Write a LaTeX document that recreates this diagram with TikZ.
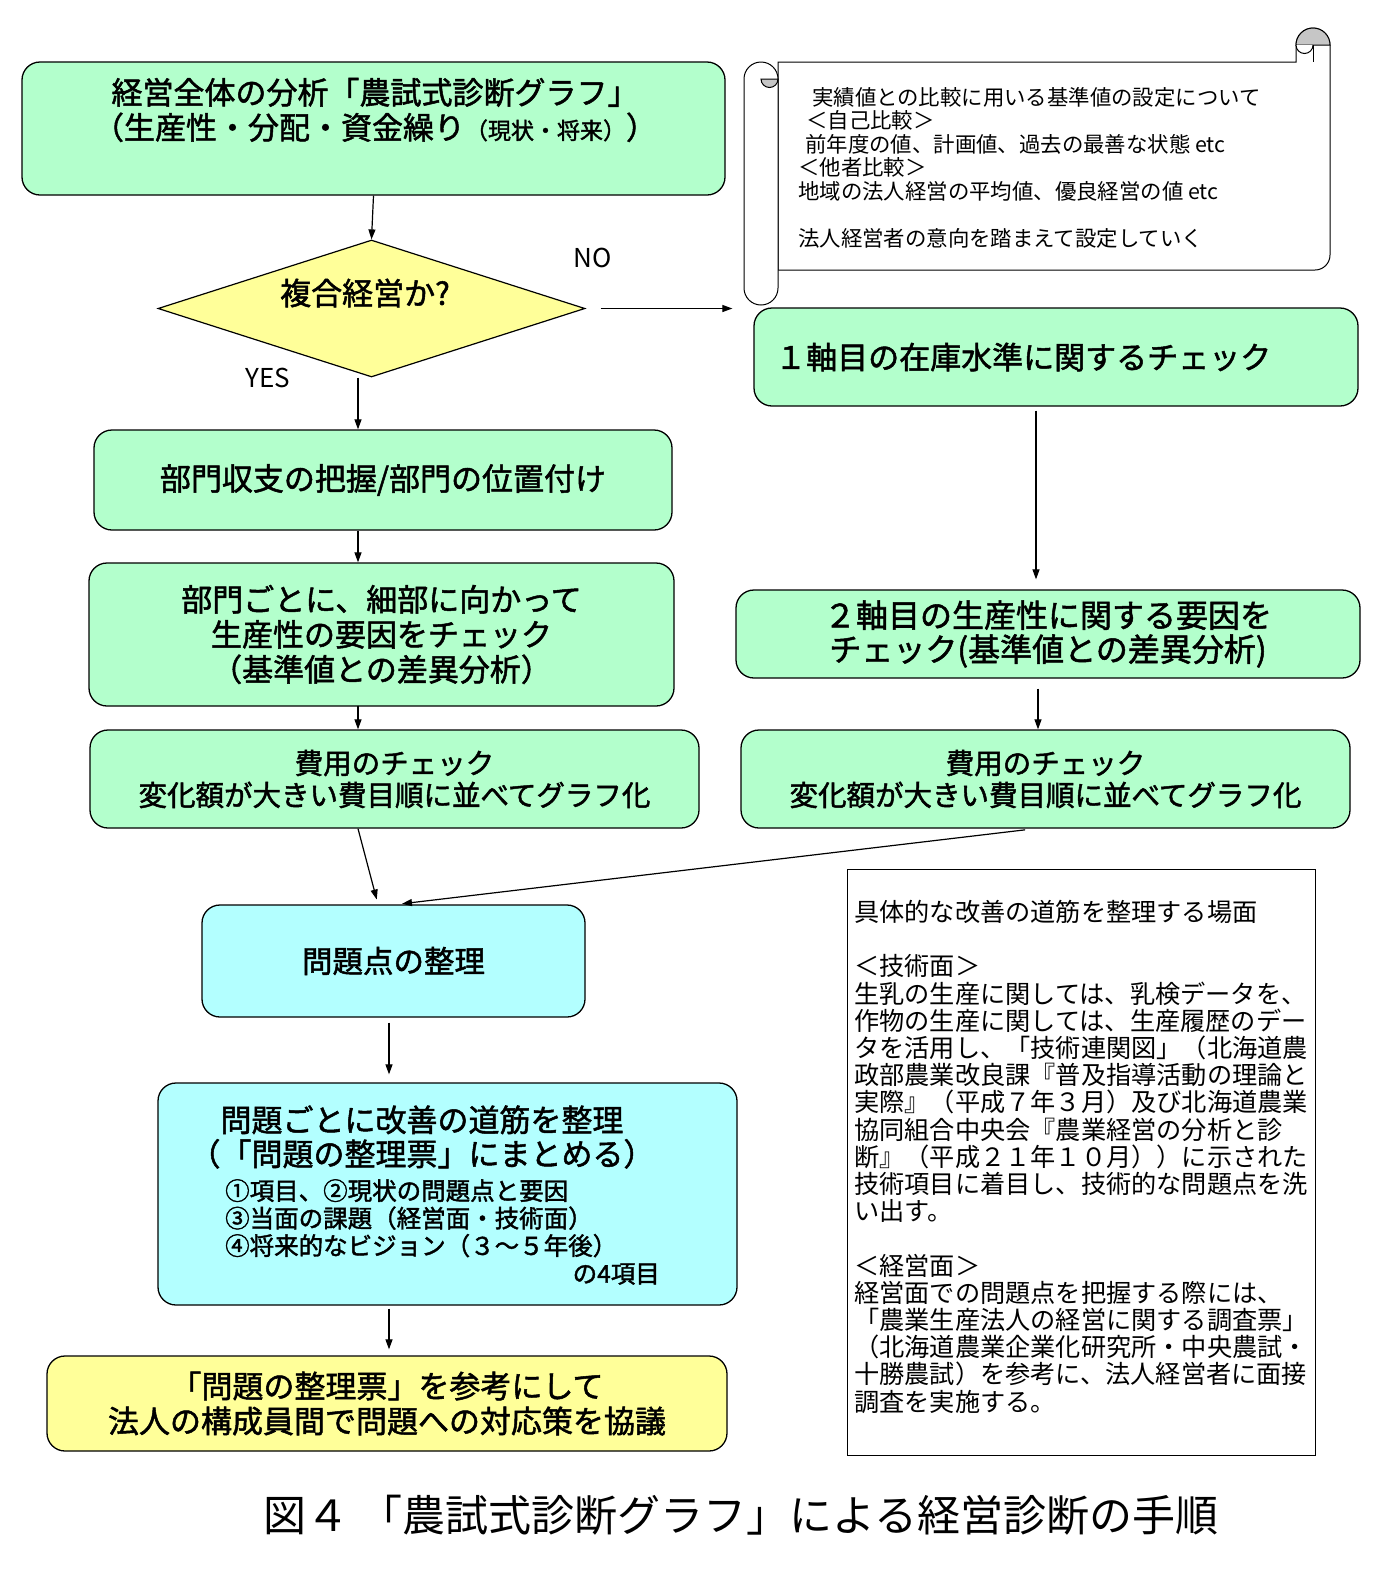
\documentclass[tikz,border=0pt]{standalone}
\usepackage{fontspec}
\setmainfont{Noto Sans CJK JP}[BoldFont={Noto Sans CJK JP},BoldFeatures={FakeBold=1.6}]
\usetikzlibrary{arrows.meta,positioning,shapes.geometric}
\definecolor{boxgreen}{RGB}{179,255,204}
\definecolor{boxcyan}{RGB}{179,255,255}
\definecolor{boxyellow}{RGB}{255,255,153}
\newcommand{\fs}[2]{\fontsize{#1}{#2}\selectfont}

\begin{document}
\begin{tikzpicture}[x=1pt,y=-1pt,>={Triangle[length=10pt,width=7pt]},
  box/.style={draw,line width=1.3pt,rounded corners=18pt,align=center,inner sep=0pt,font=\bfseries\fs{31}{35}},
  gbox/.style={box,fill=boxgreen},
  cbox/.style={box,fill=boxcyan},
  ybox/.style={box,fill=boxyellow},
  txt/.style={inner sep=0pt,align=center,font=\bfseries\fs{31}{35}},
  arr/.style={->,line width=1.2pt}]
\useasboundingbox (0,0) rectangle (1395,1572);

% left column
\node[gbox,minimum width=703pt,minimum height=133pt] (top) at (373.5,128.5) {};
\node[txt] (toptxt) at (375,110) {経営全体の分析「農試式診断グラフ」\\（生産性・分配・資金繰り{\fs{23}{23}（現状・将来）}）};
\node[diamond,draw,line width=1.2pt,fill=boxyellow,minimum width=427pt,minimum height=137pt,inner sep=0pt] (dec) at (371.5,308.5) {};
\node[txt] (dectxt) at (365,293) {複合経営か?};
\node[font=\fs{26}{26}] (no) at (593,258) {NO};
\node[font=\fs{26}{26}] (yes) at (268,378) {YES};
\node[gbox,minimum width=578pt,minimum height=100pt] (b1) at (383,480) {部門収支の把握/部門の位置付け};
\node[gbox,minimum width=585pt,minimum height=143pt] (b2) at (381.5,634.5) {部門ごとに、細部に向かって\\生産性の要因をチェック\\（基準値との差異分析）};
\node[gbox,minimum width=609pt,minimum height=98pt,font=\bfseries\fs{28.5}{32}] (b3) at (394.5,779) {費用のチェック\\変化額が大きい費目順に並べてグラフ化};

% right column
\filldraw[fill=white,line width=1pt] (778,62) -- (1296,62) -- (1296,45) arc[start angle=180,end angle=0,radius=17pt] -- (1330,255) arc[start angle=0,end angle=-90,radius=15pt] -- (778,270) -- cycle;
\filldraw[fill=gray!45,line width=1pt] (1296,45) arc[start angle=180,end angle=0,radius=17pt] -- cycle;
\filldraw[fill=white,line width=1pt] (1296,45) arc[start angle=180,end angle=360,radius=8.5pt];
\draw[line width=1pt] (1313,45) -- (1313,62);
\filldraw[fill=white,line width=1pt] (744,79) arc[start angle=180,end angle=0,radius=17pt] -- (778,288) arc[start angle=0,end angle=-180,radius=17pt] -- cycle;
\filldraw[fill=gray!45,line width=1pt] (778,79) arc[start angle=0,end angle=-180,radius=8.5pt] -- cycle;
\node[anchor=north west,align=left,inner sep=0pt,font=\fs{21.4}{23.5}] (scrolltxt) at (798,87) {\hspace*{14pt}実績値との比較に用いる基準値の設定について\\
\hspace*{8pt}＜自己比較＞\\
\hspace*{7pt}前年度の値、計画値、過去の最善な状態 etc\\
＜他者比較＞\\
地域の法人経営の平均値、優良経営の値 etc\\[23.5pt]
法人経営者の意向を踏まえて設定していく};

\node[gbox,minimum width=604pt,minimum height=98pt] (r1) at (1056,357) {};
\node[txt,anchor=west] (r1txt) at (775,357) {１軸目の在庫水準に関するチェック};
\node[gbox,minimum width=624pt,minimum height=88pt,font=\bfseries\fs{32}{34}] (r2) at (1048,634) {２軸目の生産性に関する要因を\\チェック(基準値との差異分析)};
\node[gbox,minimum width=609pt,minimum height=98pt,font=\bfseries\fs{28.5}{32}] (r3) at (1045.5,779) {費用のチェック\\変化額が大きい費目順に並べてグラフ化};

% lower part
\node[cbox,minimum width=383pt,minimum height=112pt,font=\bfseries\fs{30.5}{32}] (p1) at (393.5,961) {問題点の整理};
\node[cbox,minimum width=579pt,minimum height=222pt] (p2) at (447.5,1194) {};
\node[txt,font=\bfseries\fs{31}{34}] (p2txt) at (422,1137) {問題ごとに改善の道筋を整理\\（「問題の整理票」にまとめる）};
\node[anchor=north west,align=left,inner sep=0pt,font=\bfseries\fs{24.5}{27.5}] (p2list) at (225,1179) {①項目、②現状の問題点と要因\\③当面の課題（経営面・技術面）\\④将来的なビジョン（３～５年後）};
\node[anchor=east,inner sep=0pt,font=\bfseries\fs{24.5}{27.5}] (p2end) at (660,1274) {の4項目};
\node[ybox,minimum width=680pt,minimum height=95pt] (y1) at (387,1403.5) {「問題の整理票」を参考にして\\法人の構成員間で問題への対応策を協議};

\node[draw,line width=1pt,minimum width=468pt,minimum height=586pt] (note) at (1081,1162) {};
\node[anchor=north west,align=left,inner sep=0pt,font=\fs{25.2}{27.2}] (notetxt) at (854,900) {具体的な改善の道筋を整理する場面\\[27.2pt]
＜技術面＞\\
生乳の生産に関しては、乳検データを、\\
作物の生産に関しては、生産履歴のデー\\
タを活用し、「技術連関図」（北海道農\\
政部農業改良課『普及指導活動の理論と\\
実際』（平成７年３月）及び北海道農業\\
協同組合中央会『農業経営の分析と診\\
断』（平成２１年１０月））に示された\\
技術項目に着目し、技術的な問題点を洗\\
い出す。\\[27.2pt]
＜経営面＞\\
経営面での問題点を把握する際には、\\
「農業生産法人の経営に関する調査票」\\
（北海道農業企業化研究所・中央農試・\\
十勝農試）を参考に、法人経営者に面接\\
調査を実施する。};

\node[font=\fs{43}{43}] (caption) at (741,1515) {図４ 「農試式診断グラフ」による経営診断の手順};

% connectors
\draw[arr] (top.south) -- (dec.north);
\draw[arr,shorten <=15pt,shorten >=21pt] (dec.east) -- (dec.east -| r1.west);
\draw[arr] ([xshift=-13.5pt]dec.south) -- ([xshift=-13.5pt]dec.south |- b1.north);
\draw[arr] ([xshift=-25pt]b1.south) -- ([xshift=-25pt]b1.south |- b2.north);
\draw[arr,shorten <=-1pt] ([xshift=-23.5pt]b2.south) -- ([xshift=-23.5pt]b2.south |- b3.north);
\draw[arr,shorten <=4pt,shorten >=10pt] ([xshift=-20pt]r1.south) -- ([xshift=-20pt]r1.south |- r2.north);
\draw[arr,shorten <=10pt] ([xshift=-10pt]r2.south) -- ([xshift=-10pt]r2.south |- r3.north);
\draw[arr,shorten >=5pt] ([xshift=-36.5pt]b3.south) -- ([xshift=-15.5pt]p1.north);
\draw[arr,shorten <=10pt,shorten >=5pt] ([xshift=-10.5pt]r3.south) -- ([xshift=3.5pt]p1.north);
\draw[arr,shorten <=5pt,shorten >=8pt] ([xshift=-4.5pt]p1.south) -- ([xshift=-4.5pt]p1.south |- p2.north);
\draw[arr,shorten <=3pt,shorten >=6pt] ([xshift=-58.5pt]p2.south) -- ([xshift=-58.5pt]p2.south |- y1.north);
\end{tikzpicture}
\end{document}
